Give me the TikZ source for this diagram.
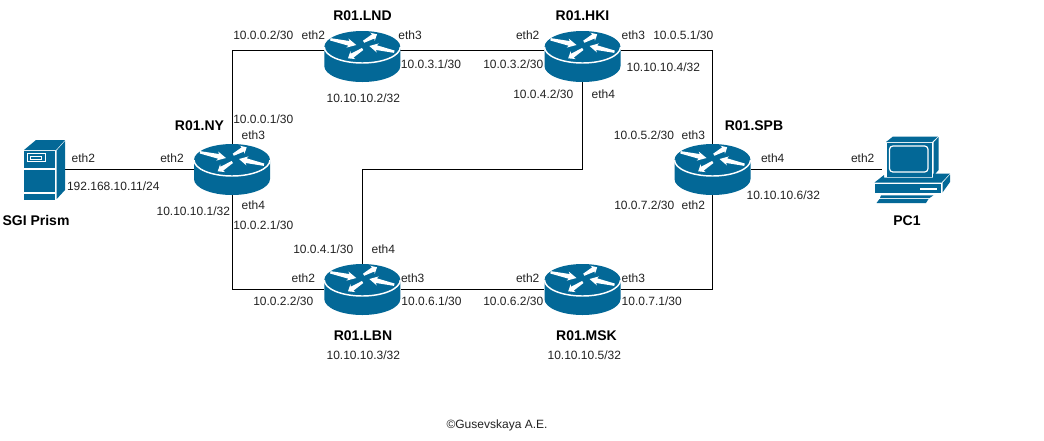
\documentclass[tikz,border=0pt]{standalone}
\usepackage{fontspec}
\setmainfont{Liberation Sans}
\usetikzlibrary{calc}
\definecolor{cisco}{HTML}{036897}
\definecolor{lblc}{HTML}{222222}
\newcommand\warr[2]{\fill[white]
  ($(#1)!.9pt!90:(#2)$) -- ($(#1)!.72!(#2)!1.8pt!90:(#2)$) -- ($(#1)!.66!(#2)!3.5pt!90:(#2)$) -- (#2)
  -- ($(#1)!.66!(#2)!3.5pt!-90:(#2)$) -- ($(#1)!.72!(#2)!1.8pt!-90:(#2)$) -- ($(#1)!.9pt!-90:(#2)$) -- cycle;}
\tikzset{
  lbl/.style={inner sep=0pt,text height=6.5pt,text depth=0pt,font=\fontsize{9}{11}\selectfont,text=lblc},
  ttl/.style={inner sep=0pt,text height=7.5pt,text depth=0pt,text=black,font=\fontsize{10.5}{12}\selectfont\bfseries},
  rbox/.style={inner sep=0pt,minimum width=57pt,minimum height=38.25pt},
  link/.style={black,line width=.75pt},
  rim/.style={white,line width=1.1pt},
  routerpic/.pic={
    \fill[cisco] (-38,-9.5) .. controls (-38,-18.3) and (-21,-25.5) .. (0,-25.5)
      .. controls (21,-25.5) and (38,-18.3) .. (38,-9.5) -- (38,9.5)
      .. controls (38,18.3) and (21,25.5) .. (0,25.5)
      .. controls (-21,25.5) and (-38,18.3) .. (-38,9.5) -- cycle;
    \draw[rim] (-38,-9.5) .. controls (-38,-0.7) and (-21,6.5) .. (0,6.5)
      .. controls (21,6.5) and (38,-0.7) .. (38,-9.5);
    \warr{-32,-17.2}{-6,-11.5}
    \warr{1.3,-14.8}{14.7,-22.2}
    \warr{32,-4.8}{7,-10.5}
    \warr{0.3,-7.5}{-14.3,1.8}
  },
  serverpic/.pic={
    \fill[cisco] (24,150) -- (36,140) -- (65,140) -- (56,150) -- cycle;
    \fill[cisco] (56.7,150.5) -- (65,141) -- (65,190) -- (56.7,199) -- cycle;
    \fill[cisco] (24,151) rectangle (55,168);
    \fill[cisco] (24,170) rectangle (55,192);
    \fill[cisco] (24,194) rectangle (55,200);
    \draw[white,line width=.75pt] (27.5,153.5) rectangle (45,161.5);
    \draw[white,line width=.6pt] (30.7,156) rectangle (41,159);
  },
  pcpic/.pic={
    \fill[cisco] (886,142) -- (893,136.5) -- (938,136.5) -- (932,142) -- cycle;
    \fill[cisco] (933.5,142.5) -- (938.5,137) -- (938.5,170) -- (933.5,176) -- cycle;
    \fill[cisco] (886.5,142.8) rectangle (931.7,176.5);
    \draw[white,line width=.9pt,rounded corners=2.5pt,fill=cisco] (889.5,146) rectangle (928,172);
    \fill[cisco] (884,175) -- (874.5,182.5) -- (941.5,182.5) -- (950,173.5) -- (933,173.5) -- (933,177.5) -- (884,177.5) -- cycle;
    \fill[cisco] (874.5,183.8) rectangle (941,193);
    \fill[cisco] (942.5,183) -- (950,174.5) -- (950,182) -- (942.5,192.5) -- cycle;
    \fill[white] (920,187.5) rectangle (936.7,189.6);
    \fill[cisco] (881,195.3) -- (933.5,195.3) -- (929.5,198) -- (880,198) -- cycle;
    \fill[cisco] (879.5,199) -- (928.5,199) -- (926,203) -- (876.5,203) -- cycle;
  }
}
\begin{document}
\begin{tikzpicture}[x=.75pt,y=-.75pt]
\useasboundingbox[fill=white] (0,0) rectangle (1044,440);
% placeholders carrying the connector anchors
\node[rbox] (ny)  at (232,169.5) {};
\node[rbox] (lnd) at (362.3,56.5) {};
\node[rbox] (hki) at (582.5,56.5) {};
\node[rbox] (spb) at (712.5,169.5) {};
\node[rbox] (lbn) at (362.3,289.5) {};
\node[rbox] (msk) at (582.5,289.5) {};
\node[inner sep=0pt,minimum width=29.25pt,minimum height=45pt] (srv) at (43.5,169.5) {};
\node[inner sep=0pt,minimum width=51.75pt,minimum height=51pt] (pc) at (916.5,169.5) {};
\coordinate (lndW) at (324,50.5);
\coordinate (lndE) at (396,50.5);
\coordinate (hkiW) at (544,50.5);
\coordinate (hkiE) at (621,50.5);
\coordinate (mid) at (472,169.5);
% connectors
\draw[link] (srv.east) -- (ny.west);
\draw[link] (ny.north) |- (lndW);
\draw[link] (lndE) -- (hkiW);
\draw[link] (hkiE) -| (spb.north);
\draw[link] (hki.south) |- (mid) -| (lbn.north);
\draw[link] (ny.south) |- (lbn.west);
\draw[link] (lbn.east) -- (msk.west);
\draw[link] (msk.east) -| (spb.south);
\draw[link] (spb.east) -- (pc.west);
% icons
\pic at (ny) {routerpic};
\pic at (lnd) {routerpic};
\pic at (hki) {routerpic};
\pic at (spb) {routerpic};
\pic at (lbn) {routerpic};
\pic at (msk) {routerpic};
\pic at (0,0) {serverpic};
\pic at (0,0) {pcpic};
% titles
\node[ttl] (tlnd) at (362.5,15) {R01.LND};
\node[ttl] (tny) at (199.5,125.5) {R01.NY};
\node[ttl] (thki) at (582.5,15) {R01.HKI};
\node[ttl] (tspb) at (754,125) {R01.SPB};
\node[ttl] (tlbn) at (363,335) {R01.LBN};
\node[ttl] (tmsk) at (586.5,335) {R01.MSK};
\node[ttl] (tsrv) at (36,220) {SGI Prism};
\node[ttl] (tpc) at (907,220) {PC1};
% LND
\node[lbl] (a1) at (263.3,35) {10.0.0.2/30};
\node[lbl] (a2) at (313.3,35) {eth2};
\node[lbl] (a3) at (410,35) {eth3};
\node[lbl] (a4) at (431,64.5) {10.0.3.1/30};
\node[lbl] (a5) at (363.3,98) {10.10.10.2/32};
% NY
\node[lbl] (b1) at (263.3,119.5) {10.0.0.1/30};
\node[lbl] (b2) at (253.3,135) {eth3};
\node[lbl] (b3) at (253.3,205) {eth4};
\node[lbl] (b4) at (193.3,210.7) {10.10.10.1/32};
\node[lbl] (b5) at (263.3,224.7) {10.0.2.1/30};
\node[lbl] (b6) at (172,157.7) {eth2};
% server
\node[lbl] (c1) at (83.3,157.7) {eth2};
\node[lbl] (c2) at (113.3,186) {192.168.10.11/24};
% LBN
\node[lbl] (d1) at (323.3,248.7) {10.0.4.1/30};
\node[lbl] (d2) at (383.3,248.7) {eth4};
\node[lbl] (d3) at (303.3,278.3) {eth2};
\node[lbl] (d4) at (412.7,278.3) {eth3};
\node[lbl] (d5) at (283.3,300.7) {10.0.2.2/30};
\node[lbl] (d6) at (431.5,300.7) {10.0.6.1/30};
\node[lbl] (d7) at (363.3,354.7) {10.10.10.3/32};
% MSK
\node[lbl] (e1) at (527.7,278.3) {eth2};
\node[lbl] (e2) at (513.3,300.7) {10.0.6.2/30};
\node[lbl] (e3) at (633.3,278.3) {eth3};
\node[lbl] (e4) at (651.7,300.7) {10.0.7.1/30};
\node[lbl] (e5) at (584.3,354.7) {10.10.10.5/32};
% HKI
\node[lbl] (f1) at (527.7,35) {eth2};
\node[lbl] (f2) at (513.3,64.5) {10.0.3.2/30};
\node[lbl] (f3) at (543.3,94.5) {10.0.4.2/30};
\node[lbl] (f4) at (603.3,94.5) {eth4};
\node[lbl] (f5) at (633.3,35) {eth3};
\node[lbl] (f6) at (683.3,35) {10.0.5.1/30};
\node[lbl] (f7) at (663.3,67.5) {10.10.10.4/32};
% SPB
\node[lbl] (g1) at (644,135) {10.0.5.2/30};
\node[lbl] (g2) at (693.3,135) {eth3};
\node[lbl] (g3) at (644.3,204.7) {10.0.7.2/30};
\node[lbl] (g4) at (693.3,204.7) {eth2};
\node[lbl] (g5) at (772.7,157.7) {eth4};
\node[lbl] (g6) at (783.3,195) {10.10.10.6/32};
% PC
\node[lbl] (h1) at (862.7,157.7) {eth2};
% credit
\node[lbl] (cr) at (497,424) {©Gusevskaya A.E.};
\end{tikzpicture}
\end{document}
